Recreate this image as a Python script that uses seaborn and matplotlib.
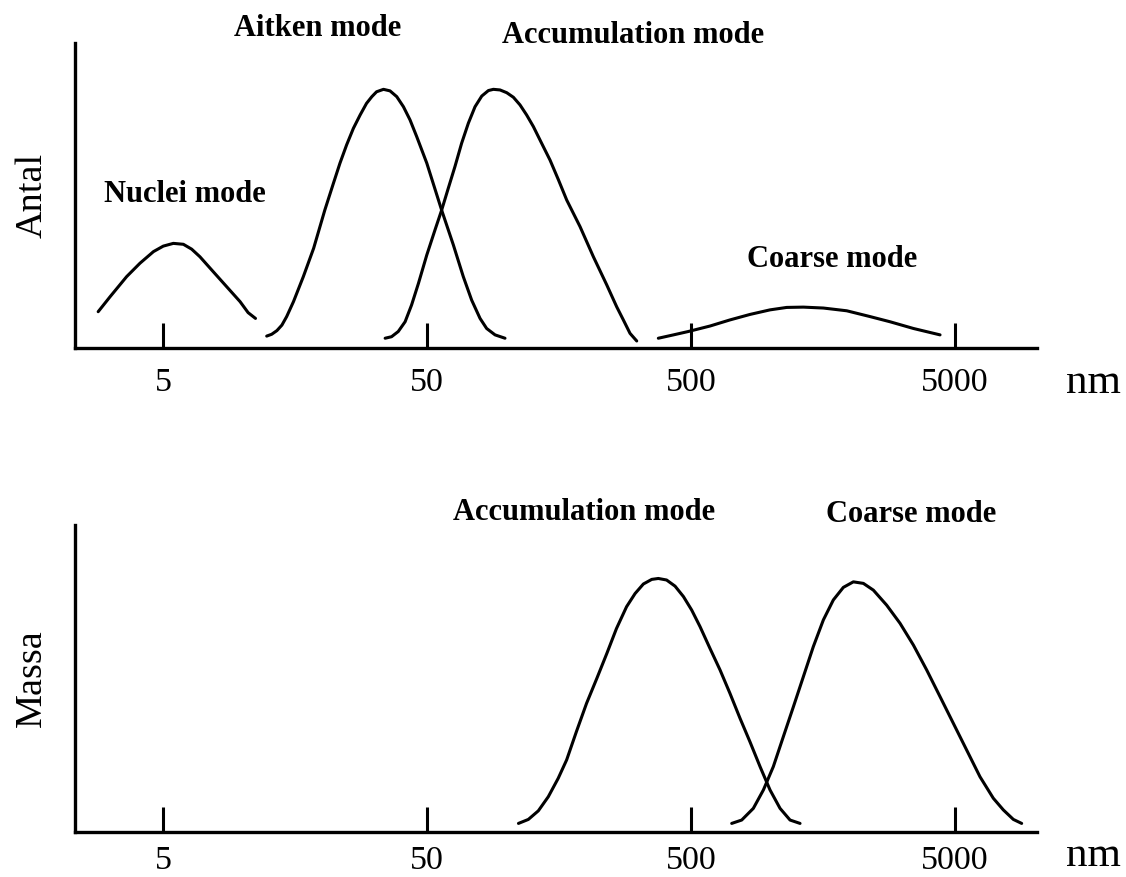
import numpy as np
import seaborn as sns
import matplotlib.pyplot as plt
from matplotlib.ticker import NullLocator

# particle diameter (nm) and relative height
nuclei_nm = [2.84, 3.15, 3.64, 4.09, 4.60, 5.01, 5.47, 5.97, 6.42, 6.90,
             7.75, 8.71, 9.79, 10.5, 11.2]
nuclei_h = [11.9, 16.8, 23.4, 27.8, 31.6, 33.4, 34.3, 34.0, 32.4, 29.9,
            25.0, 20.1, 15.2, 11.6, 9.7]

aitken_nm = [12.35, 12.9, 13.5, 14.1, 14.7, 15.6, 17.0, 18.6, 20.5, 22.1,
             23.4, 24.8, 26.3, 27.9, 29.5, 30.9, 32.2, 34.2, 36.2, 38.4,
             40.7, 43.1, 45.7, 49.9, 56.8, 62.9, 68.6, 73.8, 79.4, 84.1,
             90.5, 98.7]
aitken_h = [3.9, 4.5, 5.7, 7.5, 10.3, 15.2, 23.4, 32.7, 45.2, 54.0,
            60.6, 66.6, 72.0, 76.4, 80.2, 82.4, 84.0, 84.8, 84.3, 82.4,
            79.1, 74.8, 69.3, 60.6, 45.2, 33.8, 23.4, 15.7, 9.7, 6.4,
            4.3, 3.2]

accum_n_nm = [34.7, 36.7, 38.9, 41.3, 43.7, 46.4, 49.9, 53.6, 56.8, 60.2,
              63.8, 67.6, 71.7, 76.0, 80.6, 85.4, 89.2, 94.5, 100.2, 106.2,
              112.5, 119.2, 126.4, 135.9, 146.2, 157.2, 169.1, 189.9, 213.4,
              239.7, 261.5, 277.1, 293.7, 311.4]
accum_n_h = [3.2, 3.7, 5.4, 8.6, 14.1, 21.2, 30.5, 38.7, 45.2, 52.4,
             59.5, 67.1, 73.7, 79.1, 82.6, 84.4, 84.8, 84.6, 83.7, 82.2,
             79.7, 76.4, 72.6, 67.1, 61.6, 55.2, 48.5, 39.8, 29.9,
             20.7, 13.5, 9.2, 4.8, 2.3]

coarse_n_nm = [376, 429, 488, 590, 702, 836, 996, 1152, 1332, 1586, 1944,
               2382, 2837, 3478, 4388]
coarse_n_h = [3.2, 4.3, 5.4, 7.2, 9.2, 11.0, 12.5, 13.3, 13.4, 13.1, 12.2,
              10.3, 8.6, 6.4, 4.3]

accum_m_nm = [111, 121, 132, 144, 157, 169, 184, 201, 220, 240, 261, 285,
              307, 330, 355, 376, 404, 435, 468, 503, 541, 590, 644, 702,
              767, 836, 913, 996, 1087, 1186, 1294]
accum_m_h = [2.8, 4.1, 6.9, 11.5, 17.5, 23.5, 32.7, 41.9, 50.1, 58.2, 66.3,
             73.4, 77.7, 80.8, 82.3, 82.6, 82.1, 80.1, 76.7, 72.3, 66.9,
             59.8, 52.8, 45.2, 37.0, 29.4, 21.3, 13.7, 7.7, 3.9, 2.8]

coarse_m_nm = [713, 778, 861, 940, 1025, 1119, 1221, 1332, 1453, 1586,
               1730, 1888, 2060, 2248, 2453, 2755, 3095, 3478, 3905, 4388,
               4928, 5535, 6217, 6983, 7620, 8317, 8942]
coarse_m_h = [2.8, 3.9, 7.7, 13.7, 21.3, 31.1, 40.8, 50.6, 60.4, 69.1,
              75.6, 79.7, 81.5, 81.0, 78.8, 73.9, 68.0, 60.9, 52.8, 44.1,
              35.4, 26.7, 18.0, 11.0, 7.2, 4.1, 2.8]

tick_vals = [5, 50, 500, 5000]
tick_labels = ["5", "50", "500", "5000"]

sns.set_theme(style="white")
plt.rcParams['font.family'] = ['Liberation Serif', 'DejaVu Serif']
plt.rcParams['text.color'] = 'black'
plt.rcParams['axes.labelcolor'] = 'black'
plt.rcParams['xtick.color'] = 'black'

fig = plt.figure(figsize=(11.26, 8.77), dpi=100)
ax1 = fig.add_axes([0.0666, 0.6032, 0.8544, 0.3478])
ax2 = fig.add_axes([0.0666, 0.0513, 0.8544, 0.3500])

def setup(ax, ylabel, pad):
    ax.set_xscale('log')
    ax.set_xlim(2.32, 10226)
    ax.set_ylim(0, 100)
    ax.set_xticks(tick_vals)
    ax.set_xticklabels(tick_labels)
    ax.xaxis.set_minor_locator(NullLocator())
    ax.set_yticks([])
    ax.tick_params(axis='x', direction='in', length=18, width=2.2,
                   pad=pad, labelsize=24.5, color='black', bottom=True)
    for s in ['top', 'right']:
        ax.spines[s].set_visible(False)
    for s in ['left', 'bottom']:
        ax.spines[s].set_color('black')
        ax.spines[s].set_linewidth(2.4)
    ax.set_ylabel(ylabel, fontsize=27.5, labelpad=18.5)
    ax.set_xlabel("")
    ax.patch.set_alpha(0)

lw = 2.2
for x, y in [(nuclei_nm, nuclei_h), (aitken_nm, aitken_h),
             (accum_n_nm, accum_n_h), (coarse_n_nm, coarse_n_h)]:
    sns.lineplot(x=x, y=y, ax=ax1, color='black', linewidth=lw,
                 estimator=None, sort=False, solid_joinstyle='round')
for x, y in [(accum_m_nm, accum_m_h), (coarse_m_nm, coarse_m_h)]:
    sns.lineplot(x=x, y=y, ax=ax2, color='black', linewidth=lw,
                 estimator=None, sort=False, solid_joinstyle='round')

setup(ax1, "Antal", 14)
setup(ax2, "Massa", 9.5)

lab = dict(fontsize=22, fontweight='bold', ha='center', va='center',
           clip_on=False, color='black')
ax1.text(6.06, 50.2, "Nuclei mode", **lab)
ax1.text(19.3, 104.9, "Aitken mode", **lab)
ax1.text(301, 102.6, "Accumulation mode", **lab)
ax1.text(1710, 28.9, "Coarse mode", **lab)
ax2.text(197, 104.2, "Accumulation mode", **lab)
ax2.text(3405, 103.3, "Coarse mode", **lab)

fig.text(0.9707, 0.5519, "nm", fontsize=31, ha='center', va='baseline')
fig.text(0.9707, 0.0125, "nm", fontsize=31, ha='center', va='baseline')

fig.savefig("out.png", dpi=100, facecolor='white')
